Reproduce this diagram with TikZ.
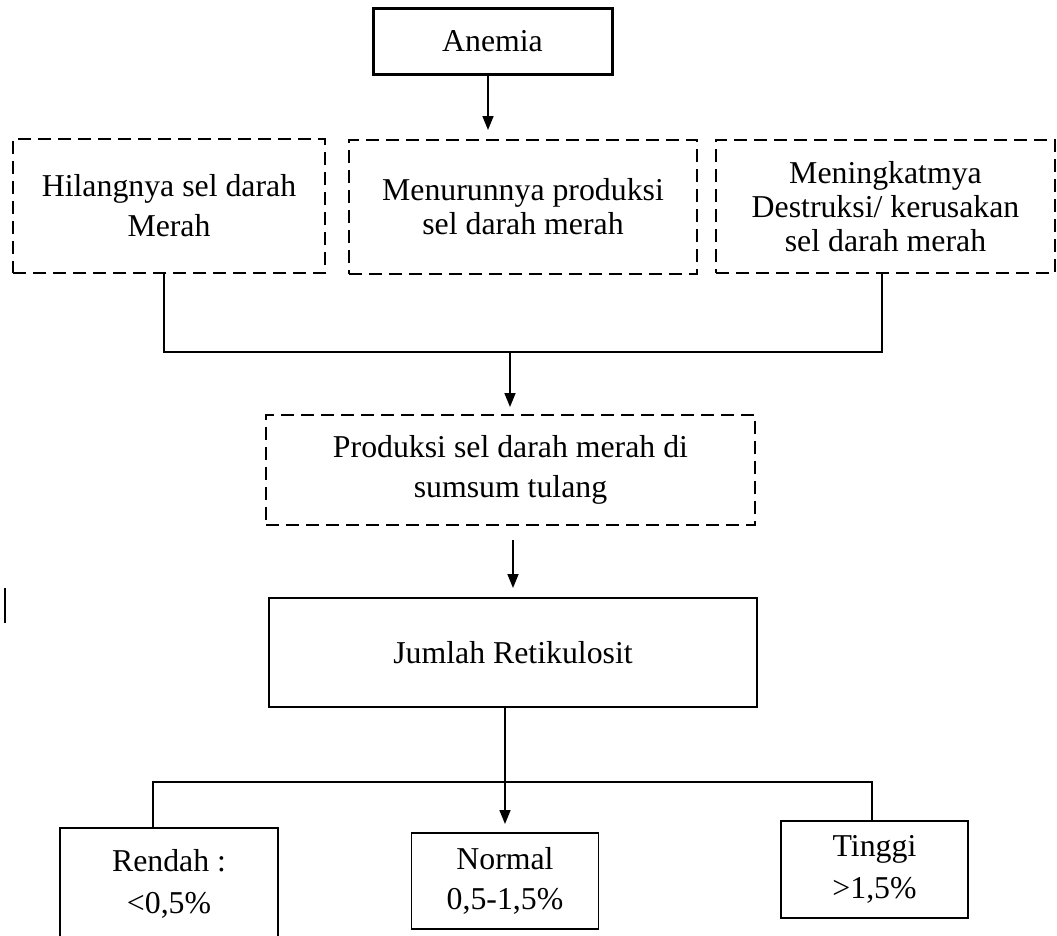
\documentclass[tikz,border=0pt]{standalone}
\usepackage{fontspec}
\setmainfont{Liberation Serif}
\usetikzlibrary{arrows.meta}
\begin{document}
\begin{tikzpicture}[x=1pt,y=-1pt,
  box/.style={draw, line width=1.6pt, align=center, inner sep=0pt, font=\fontsize{31.8}{40}\selectfont},
  dbox/.style={box, dash pattern=on 13pt off 7pt},
  conn/.style={line width=1.6pt},
  arr/.style={conn, -{Triangle[length=14pt,width=11pt]}}]
\useasboundingbox (0,0) rectangle (1057,935);
\node[box, line width=3pt, minimum width=239pt, minimum height=66pt] (anemia) at (492.5,41) {Anemia};
\node[dbox, minimum width=312pt, minimum height=134pt, font=\fontsize{31.8}{40}\selectfont] (b1) at (169,206) {Hilangnya sel darah\\Merah};
\node[dbox, minimum width=348pt, minimum height=134pt, font=\fontsize{31.8}{34}\selectfont] (b2) at (523,207) {Menurunnya produksi\\sel darah merah};
\node[dbox, minimum width=339pt, minimum height=133pt, font=\fontsize{31.8}{34}\selectfont] (b3) at (885.5,206.5) {Meningkatmya\\Destruksi/ kerusakan\\sel darah merah};
\node[dbox, minimum width=489pt, minimum height=110pt] (b4) at (510.5,470) {Produksi sel darah merah di\\sumsum tulang};
\node[box, minimum width=488pt, minimum height=109pt] (jumlah) at (513,652.5) {Jumlah Retikulosit};
\node[box, minimum width=218pt, minimum height=112pt, font=\fontsize{31.8}{42}\selectfont] (rendah) at (169,884) {Rendah :\\<0,5\%};
\node[box, minimum width=187pt, minimum height=96pt] (normal) at (505,881) {Normal\\0,5-1,5\%};
\node[box, minimum width=187pt, minimum height=97pt, font=\fontsize{31.8}{42}\selectfont] (tinggi) at (874.5,869.5) {Tinggi\\>1,5\%};
% connectors
\coordinate (a1) at (488,130);
\draw[arr] (anemia.south -| a1) -- (a1);
\coordinate (j1) at (164,352);
\coordinate (j3) at (882,352);
\draw[conn] (b1.south -| j1) -- (j1) -- (j3) -- (b3.south -| j3);
\coordinate (m1) at (510,352);
\coordinate (m2) at (510,407);
\draw[arr] (m1) -- (m2);
\coordinate (p1) at (513,540);
\coordinate (p2) at (513,588);
\draw[arr] (p1) -- (p2);
\coordinate (r2) at (505,824);
\draw[arr] (jumlah.south -| r2) -- (r2);
\coordinate (h1) at (153,782);
\coordinate (h2) at (872,782);
\draw[conn] (rendah.north -| h1) -- (h1) -- (h2) -- (tinggi.north -| h2);
% stray mark
\coordinate (s1) at (4.5,588);
\coordinate (s2) at (4.5,623);
\draw[line width=2pt] (s1) -- (s2);
\end{tikzpicture}
\end{document}
